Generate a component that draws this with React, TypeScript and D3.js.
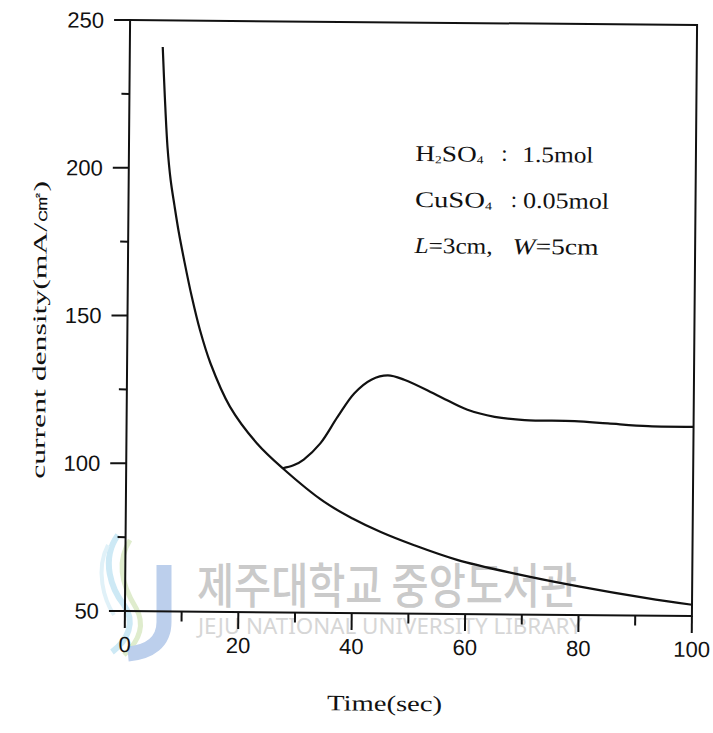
import React from "react";
import * as d3 from "d3";

const timeA = [5.8, 6.25, 6.8, 7.4, 8.1, 8.9, 10.0, 11.3, 12.8, 14.7, 18.2, 23.0, 27.6, 35, 40, 45, 50.8, 58.5, 68.5, 80.2, 92, 100];
const densityA = [241, 224, 207, 196, 187.5, 178.5, 168, 156.6, 145.3, 134.1, 119.5, 107.2, 98.8, 87.5, 82, 77.5, 73.2, 68.3, 63.9, 59.6, 55.9, 53.8];

const timeB = [27.6, 29.5, 31.3, 34.2, 37.2, 40.1, 43.1, 46.0, 48.9, 54.8, 60.1, 64.9, 70.2, 79, 84.9, 92, 100];
const densityB = [98.8, 99.8, 101.8, 107.3, 116.3, 124.3, 129, 130.5, 129.1, 123.9, 119.1, 116.8, 115.8, 115.6, 114.9, 114.1, 114];

const xMajor = [0, 20, 40, 60, 80, 100];
const xMinor = [10, 30, 50, 70, 90];
const yMajor = [50, 100, 150, 200, 250];
const yMinor = [75, 125, 175, 225];

const xTitle = "Time(sec)";
const yTitle = "current density(mA/㎠)";

const W = 713;
const H = 733;
const L = 127.5, R = 694.5, T = 22.5, B = 613.5;

export default function App() {
  const x = d3.scaleLinear().domain([0, 100]).range([L, R]);
  const y = d3.scaleLinear().domain([50, 250]).range([B, T]);
  const line = d3
    .line<[number, number]>()
    .x((d) => x(d[0]))
    .y((d) => y(d[1]))
    .curve(d3.curveCatmullRom.alpha(0.5));
  const ptsA = timeA.map((t, i) => [t, densityA[i]] as [number, number]);
  const ptsB = timeB.map((t, i) => [t, densityB[i]] as [number, number]);
  const sans = "'Liberation Sans', Arial, sans-serif";
  const serif = "'Liberation Serif', 'Times New Roman', serif";
  const ink = "#111";
  const sub = 11;

  return (
    <svg width={W} height={H} style={{ position: "absolute", left: 0, top: 0, background: "#fff" }}>
      {/* watermark */}
      <g>
        <path d="M118,535 C100,560 112,590 124,605 C136,622 128,640 112,652" fill="none" stroke="#cde9f5" strokeWidth={6} />
        <path d="M130,540 C114,565 126,592 136,608 C146,626 138,642 124,655" fill="none" stroke="#dfeccd" strokeWidth={5} />
        <path d="M108,545 C95,570 104,600 114,615" fill="none" stroke="#e0f1f8" strokeWidth={4} />
        <path d="M164,565 L164,622 C164,642 150,652 128,654" fill="none" stroke="#bccfec" strokeWidth={15} />
        <text x={197} y={603} fontFamily="'Noto Sans CJK KR', sans-serif" fontWeight={500} fontSize={48} fill="#cacaca" textLength={380} lengthAdjust="spacingAndGlyphs">
          제주대학교 중앙도서관
        </text>
        <text x={198} y={634} fontFamily="'Noto Sans', sans-serif" fontSize={21} fill="#d6d6d6" textLength={384} lengthAdjust="spacingAndGlyphs">
          JEJU NATIONAL UNIVERSITY LIBRARY
        </text>
      </g>

      <g transform="rotate(0.5, 408, 318)">
        {/* frame */}
        <rect x={L} y={T} width={R - L} height={B - T} fill="none" stroke={ink} strokeWidth={2} />

        {/* y ticks */}
        {yMajor.map((v) => (
          <g key={"ym" + v}>
            <line x1={L - 16} x2={L} y1={y(v)} y2={y(v)} stroke={ink} strokeWidth={2} />
            <text x={L - 26} y={y(v)} dy="0.36em" textAnchor="end" fontFamily={sans} fontSize={22} fill={ink}>
              {v}
            </text>
          </g>
        ))}
        {yMinor.map((v) => (
          <line key={"yn" + v} x1={L - 8} x2={L} y1={y(v)} y2={y(v)} stroke={ink} strokeWidth={2} />
        ))}

        {/* x ticks */}
        {xMajor.map((v) => (
          <g key={"xm" + v}>
            <line x1={x(v)} x2={x(v)} y1={B} y2={B + 17} stroke={ink} strokeWidth={2} />
            <text x={x(v)} y={B + 41} textAnchor="middle" fontFamily={sans} fontSize={22} fill={ink}>
              {v}
            </text>
          </g>
        ))}
        {xMinor.map((v) => (
          <line key={"xn" + v} x1={x(v)} x2={x(v)} y1={B} y2={B + 10} stroke={ink} strokeWidth={2} />
        ))}

        {/* curves */}
        <path d={line(ptsA) || ""} fill="none" stroke={ink} strokeWidth={2.2} />
        <path d={line(ptsB) || ""} fill="none" stroke={ink} strokeWidth={2.2} />

        {/* annotation */}
        <g fontFamily={serif} fontSize={22.5} fill={ink}>
          <text x={414} y={161} textLength={68} lengthAdjust="spacingAndGlyphs">
            H<tspan fontSize={sub} dy={2}>2</tspan>
            <tspan dy={-2}>SO</tspan>
            <tspan fontSize={sub} dy={2}>4</tspan>
          </text>
          <text x={503} y={160} textAnchor="middle">:</text>
          <text x={521} y={161} textLength={71} lengthAdjust="spacingAndGlyphs">1.5mol</text>

          <text x={414} y={207} textLength={77} lengthAdjust="spacingAndGlyphs">
            CuSO<tspan fontSize={sub} dy={2}>4</tspan>
          </text>
          <text x={513} y={206} textAnchor="middle">:</text>
          <text x={522} y={207} textLength={86} lengthAdjust="spacingAndGlyphs">0.05mol</text>

          <text x={414} y={253} textLength={78} lengthAdjust="spacingAndGlyphs">
            <tspan fontStyle="italic">L</tspan>=3cm,
          </text>
          <text x={512} y={253} textLength={86} lengthAdjust="spacingAndGlyphs">
            <tspan fontStyle="italic">W</tspan>=5cm
          </text>
        </g>

        {/* axis titles */}
        <text
          x={0}
          y={0}
          transform="translate(46, 333) rotate(-90)"
          textAnchor="middle"
          fontFamily={serif}
          fontSize={19}
          fill={ink}
          textLength={298}
          lengthAdjust="spacingAndGlyphs"
        >
          {yTitle}
        </text>
        <text x={388} y={711} textAnchor="middle" fontFamily={serif} fontSize={22} fill={ink} textLength={115} lengthAdjust="spacingAndGlyphs">
          {xTitle}
        </text>
      </g>
    </svg>
  );
}
